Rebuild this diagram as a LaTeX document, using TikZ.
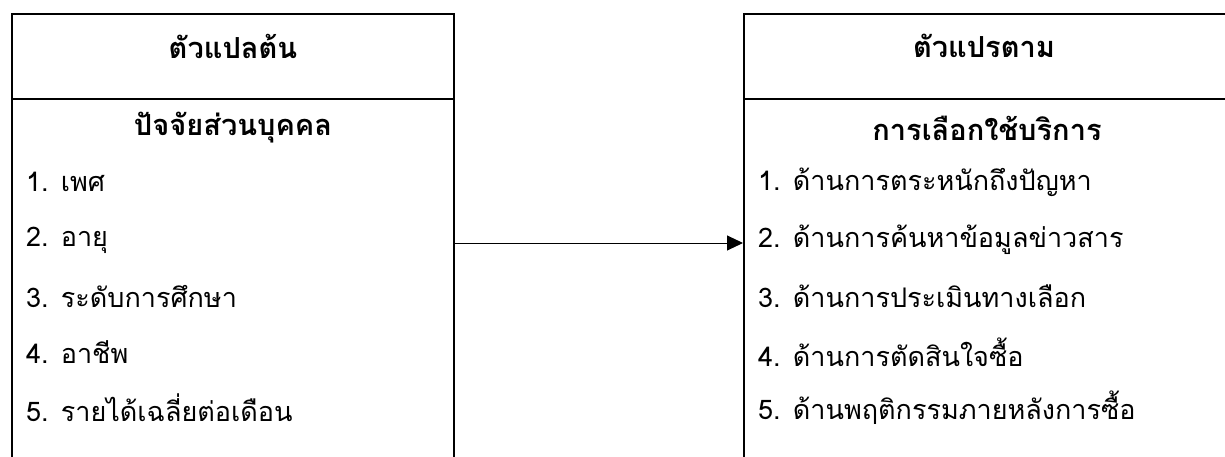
\documentclass[tikz,border=0pt]{standalone}
\usepackage{fontspec}
\newfontfamily\thaifont[Script=Thai]{Loma}
\usetikzlibrary{arrows.meta}
\begin{document}
\begin{tikzpicture}[x=1pt,y=-1pt,
  boxline/.style={line width=2pt, black},
  head/.style={font=\thaifont\bfseries\fontsize{29}{34}\selectfont, inner sep=0pt, anchor=center},
  item/.style={font=\thaifont\fontsize{27}{32}\selectfont, inner sep=0pt, anchor=west},
  conn/.style={line width=1pt, -{Triangle[length=16pt,width=15pt]}}]
\useasboundingbox (0,0) rectangle (1225,457);
% left box
\draw[boxline] (12,470) -- (12,14) -- (454,14) -- (454,470);
\draw[boxline] (12,99) -- (454,99);
% right box
\draw[boxline] (744,470) -- (744,14) -- (1240,14);
\draw[boxline] (744,99) -- (1240,99);
\node[head] (lt) at (233,46) {ตัวแปลต้น};
\node[head] (ls) at (233,128) {ปัจจัยส่วนบุคคล};
\node[item] (l1) at (26,182) {1. เพศ};
\node[item] (l2) at (26,240) {2. อายุ};
\node[item] (l3) at (26,296) {3. ระดับการศึกษา};
\node[item] (l4) at (26,352) {4. อาชีพ};
\node[item] (l5) at (26,408) {5. รายได้เฉลี่ยต่อเดือน};
\node[head] (rt) at (984,46) {ตัวแปรตาม};
\node[head] (rs) at (987,128) {การเลือกใช้บริการ};
\node[item] (r1) at (758,182) {1. ด้านการตระหนักถึงปัญหา};
\node[item] (r2) at (758,240) {2. ด้านการค้นหาข้อมูลข่าวสาร};
\node[item] (r3) at (758,296) {3. ด้านการประเมินทางเลือก};
\node[item] (r4) at (758,352) {4. ด้านการตัดสินใจซื้อ};
\node[item] (r5) at (758,408) {5. ด้านพฤติกรรมภายหลังการซื้อ};
\coordinate (a0) at (454,243);
\coordinate (a1) at (743,243);
\draw[conn] (a0) -- (a1);
\end{tikzpicture}
\end{document}
